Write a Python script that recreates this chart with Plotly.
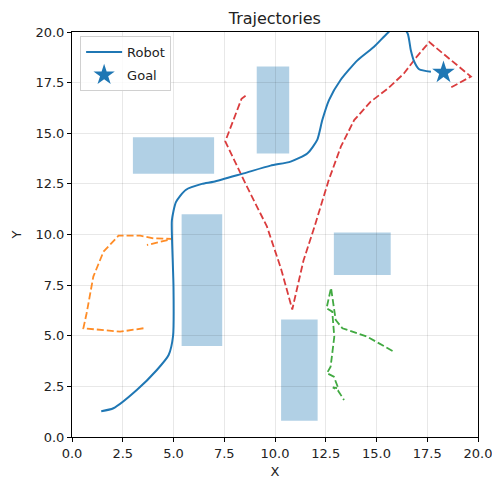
import plotly.graph_objects as go

# Obstacles: x0, x1, y0, y1
obs_x0 = [3.0, 9.1, 5.4, 12.9, 10.3]
obs_x1 = [7.0, 10.7, 7.4, 15.7, 12.1]
obs_y0 = [13.0, 14.0, 4.5, 8.0, 0.8]
obs_y1 = [14.8, 18.3, 11.0, 10.1, 5.8]

robot_x = [1.44, 2.04, 3.19, 4.18, 4.76, 4.98, 5.0, 4.93, 4.92, 5.12, 5.6, 6.4, 6.98, 8.46,
           9.78, 10.77, 11.59, 12.08, 12.33, 12.66, 13.23, 14.06, 14.88, 15.54, 16.1,
           16.53, 16.69, 16.86, 17.1, 17.68]
robot_y = [1.27, 1.42, 2.32, 3.31, 4.05, 5.0, 7.4, 9.7, 10.7, 11.6, 12.2, 12.5, 12.6, 13.02,
           13.4, 13.6, 14.0, 14.67, 15.65, 16.64, 17.63, 18.6, 19.27, 19.94, 20.4,
           19.94, 19.1, 18.53, 18.16, 18.04]

goal_x = [18.3]
goal_y = [18.0]

red_x = [8.55, 8.35, 7.55, 8.55, 9.6, 10.3, 10.85, 11.4, 11.95, 12.65, 13.25, 13.9,
         14.7, 15.55, 16.35, 17.0, 17.6, 19.65, 18.65]
red_y = [16.85, 16.7, 14.6, 12.5, 10.4, 8.3, 6.3, 8.7, 10.4, 12.7, 14.35, 15.65,
         16.55, 17.2, 17.95, 18.8, 19.5, 17.8, 17.25]

orange_x = [3.52, 2.37, 0.56, 0.72, 1.05, 1.55, 2.29, 3.36, 4.02, 4.92, 3.69]
orange_y = [5.37, 5.2, 5.37, 6.11, 7.92, 9.15, 9.94, 9.94, 9.81, 9.78, 9.48]

green_x = [15.79, 14.55, 13.32, 12.99, 12.76, 12.54, 12.82, 12.92, 12.74, 12.56, 12.9,
           13.12, 12.85, 13.1, 13.4]
green_y = [4.25, 4.95, 5.37, 5.78, 7.36, 6.36, 6.19, 4.95, 3.47, 3.15, 2.98,
           2.4, 2.45, 2.3, 1.83]

tick_vals = [0, 2.5, 5, 7.5, 10, 12.5, 15, 17.5, 20]
tick_text = ["0.0", "2.5", "5.0", "7.5", "10.0", "12.5", "15.0", "17.5", "20.0"]

fig = go.Figure()

for x0, x1, y0, y1 in zip(obs_x0, obs_x1, obs_y0, obs_y1):
    fig.add_shape(type="rect", xref="x", yref="y", x0=x0, x1=x1, y0=y0, y1=y1,
                  fillcolor="rgba(31,119,180,0.35)", line=dict(width=0), layer="below")

dash = "7px,3px"
fig.add_trace(go.Scatter(x=orange_x, y=orange_y, mode="lines", showlegend=False,
                         line=dict(color="rgba(255,127,14,0.9)", width=1.8, dash=dash)))
fig.add_trace(go.Scatter(x=red_x, y=red_y, mode="lines", showlegend=False,
                         line=dict(color="rgba(214,39,40,0.9)", width=1.8, dash=dash)))
fig.add_trace(go.Scatter(x=green_x, y=green_y, mode="lines", showlegend=False,
                         line=dict(color="rgba(44,160,44,0.9)", width=1.8, dash=dash)))
fig.add_trace(go.Scatter(x=robot_x, y=robot_y, mode="lines", name="Robot", legendgroup="a",
                         line=dict(color="#1f77b4", width=2, shape="spline", smoothing=0.6)))
fig.add_trace(go.Scatter(x=goal_x, y=goal_y, mode="markers", name="Goal", legendgroup="b",
                         marker=dict(symbol="star", size=17, color="#1f77b4",
                                     line=dict(width=0))))

axis_common = dict(range=[0, 20], tickvals=tick_vals, ticktext=tick_text,
                   showline=True, linecolor="black", linewidth=1, mirror=True,
                   ticks="outside", ticklen=4, tickcolor="black",
                   showgrid=True, gridcolor="rgba(0,0,0,0.09)", gridwidth=1,
                   zeroline=False, automargin=False, ticklabeloverflow="allow",
                   tickfont=dict(size=13, color="#222222"))

fig.update_layout(
    width=492, height=479,
    margin=dict(l=72, r=14, t=32, b=42),
    paper_bgcolor="white", plot_bgcolor="white",
    font=dict(family="DejaVu Sans", size=13, color="#222222"),
    title=dict(text="Trajectories", x=0.5585, xanchor="center", xref="container",
               y=1 - 18 / 479, yanchor="middle", yref="container",
               font=dict(size=16)),
    xaxis=dict(title=dict(text="X", standoff=7, font=dict(size=13)), **axis_common),
    yaxis=dict(title=dict(text="Y", standoff=10, font=dict(size=13)), **axis_common),
    legend=dict(x=0.02, y=0.99, xanchor="left", yanchor="top", traceorder="grouped",
                tracegroupgap=3, itemwidth=36,
                bgcolor="rgba(255,255,255,0.8)", bordercolor="#d0d0d0", borderwidth=1,
                font=dict(size=13)),
)

fig.write_html("out.html", config={"displayModeBar": False},
               post_script="document.body.style.margin='0';")
